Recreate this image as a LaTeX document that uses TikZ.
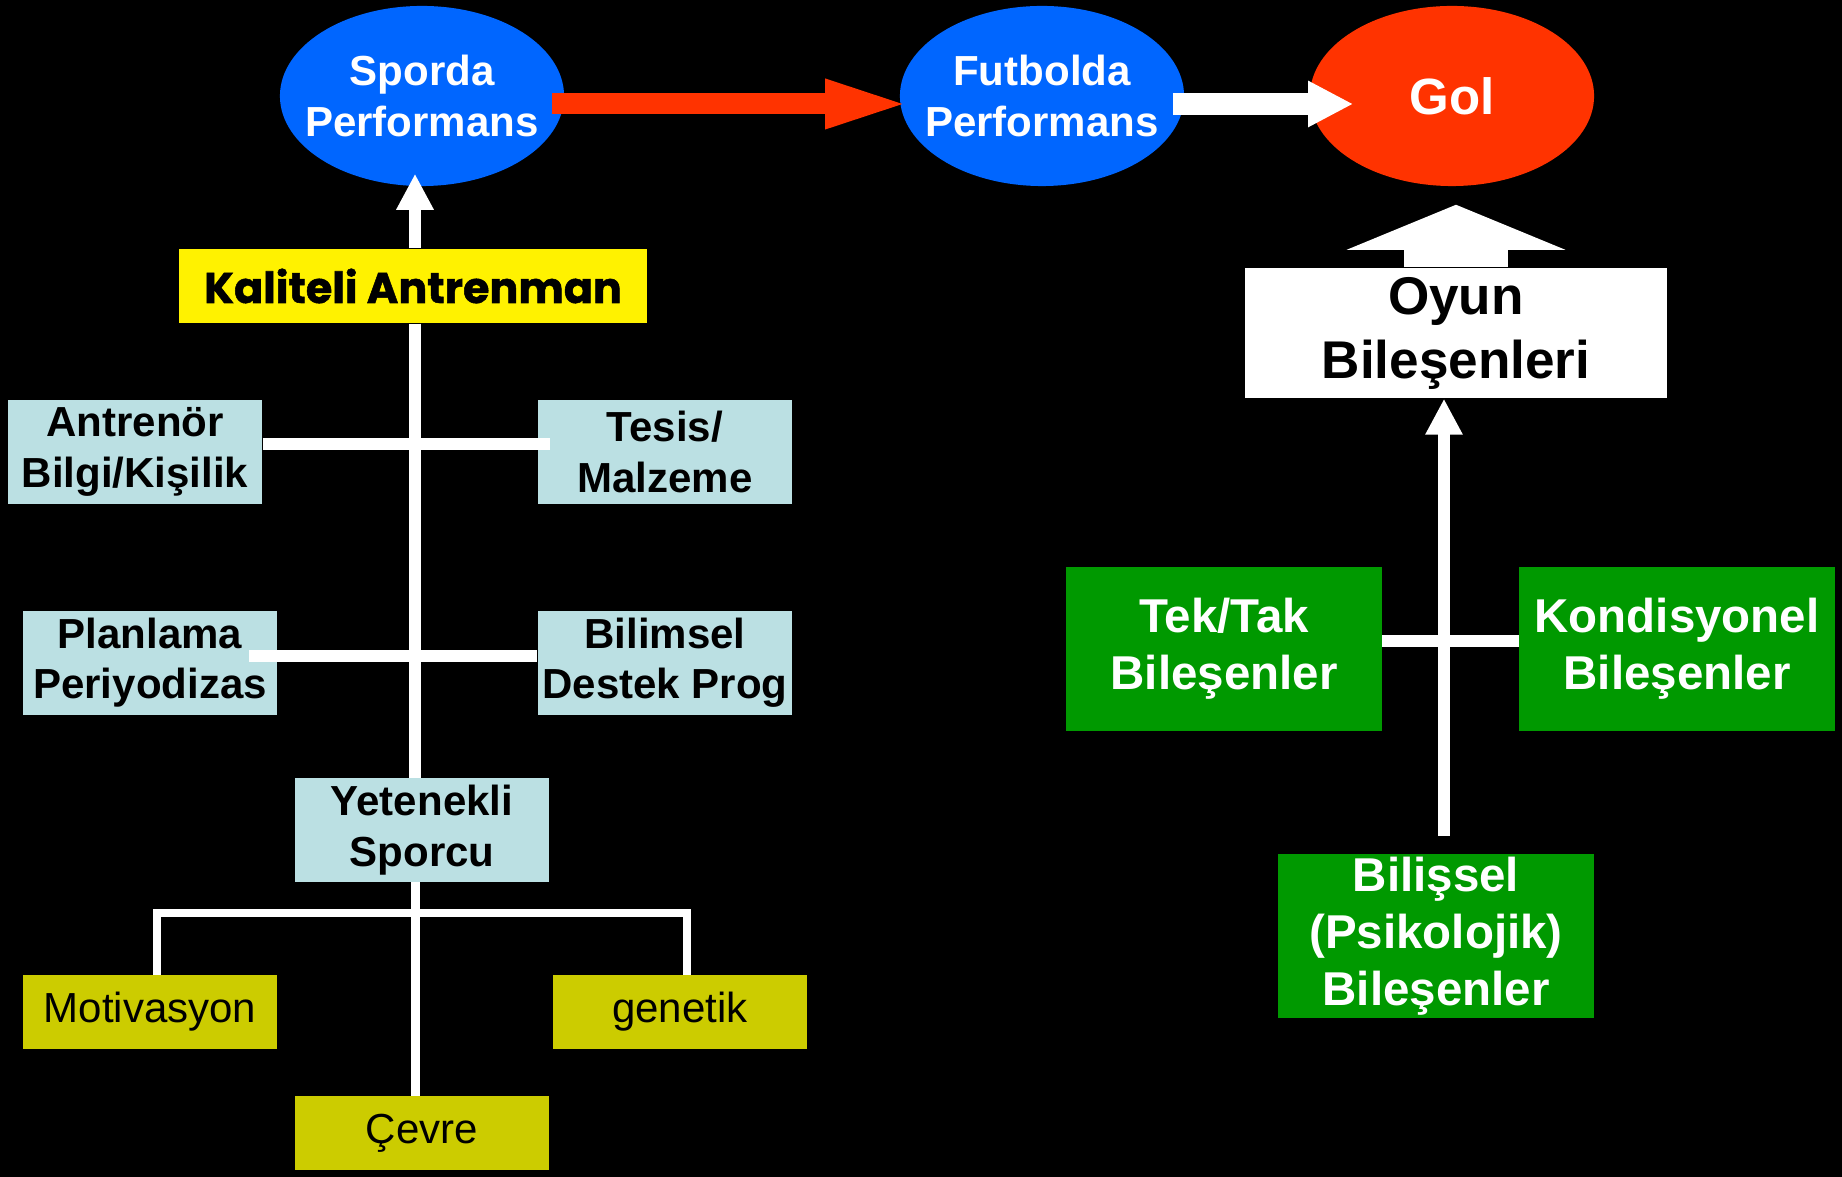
\documentclass[tikz,border=0pt]{standalone}
\usepackage{fontspec}
\setmainfont{Liberation Sans}
\newfontfamily\heavyfont{Poppins}[BoldFeatures={FakeBold=1.2}]
\usetikzlibrary{shapes.geometric,arrows.meta}

\definecolor{sportblue}{RGB}{0,102,255}
\definecolor{golred}{RGB}{255,51,0}
\definecolor{palecyan}{RGB}{187,224,227}
\definecolor{mustard}{RGB}{204,204,0}
\definecolor{fieldgreen}{RGB}{0,153,0}

\begin{document}
\begin{tikzpicture}[
            x=0.01cm, y=-0.01cm,
            oval/.style = {ellipse, minimum width=2.84cm, minimum height=1.8cm, inner xsep=-0.3cm, inner ysep=0pt, align=center, text=white, font=\fontsize{11.95pt}{14.5pt}\selectfont\bfseries},
            factor/.style = {rectangle, fill=palecyan, minimum width=2.54cm, minimum height=1.03cm, inner sep=0pt, align=center, font=\fontsize{11.95pt}{14.3pt}\selectfont\bfseries},
            root/.style = {rectangle, fill=mustard, minimum width=2.54cm, minimum height=0.73cm, inner sep=0pt, font=\fontsize{11.95pt}{14.3pt}\selectfont},
            part/.style = {rectangle, fill=fieldgreen, text=white, minimum width=3.15cm, minimum height=1.64cm, inner sep=0pt, align=center, font=\fontsize{13.5pt}{16.2pt}\selectfont\bfseries},
            wire/.style = {draw=white, line width=0.12cm},
            thinwire/.style = {draw=white, line width=0.08cm, line join=miter},
            upline/.style = {draw=white, line width=0.12cm, -{Triangle[width=0.35cm, length=0.36cm]}}
        ]

        \fill[black] (0,0) rectangle (1842,1177);

        \node[oval, fill=sportblue] (sporda) at (422,96) {Sporda\\Performans};
        \node[oval, fill=sportblue] (futbol) at (1042,96) {Futbolda\\Performans};
        \node[oval, fill=golred, font=\fontsize{14.5pt}{17pt}\selectfont\bfseries] (gol) at (1452,96) {Gol};

        \node[rectangle, fill=yellow, minimum width=4.67cm, minimum height=0.74cm, inner sep=0pt, font=\heavyfont\fontsize{12.2pt}{14pt}\selectfont\bfseries] (kaliteli) at (413,286) {Kaliteli Antrenman};

        \node[factor] (antrenor) at (135,452) {Antrenör\\Bilgi/Kişilik};
        \node[factor] (tesis) at (665,452) {Tesis/\\Malzeme};
        \node[factor] (planlama) at (150,663) {Planlama\\Periyodizas};
        \node[factor] (bilimsel) at (665,663) {Bilimsel\\Destek Prog};
        \node[factor] (yetenekli) at (422,830) {Yetenekli\\Sporcu};

        \node[root] (motivasyon) at (150,1012) {Motivasyon};
        \node[root] (genetik) at (680,1012) {genetik};
        \node[root] (cevre) at (422,1133) {Çevre};

        \node[rectangle, fill=white, minimum width=4.21cm, minimum height=1.3cm, inner sep=0pt, align=center, font=\fontsize{15.1pt}{18.2pt}\selectfont\bfseries] (oyun) at (1456,333) {Oyun\\Bileşenleri};

        \node[part] (tektak) at (1224,649) {Tek/Tak\\Bileşenler};
        \node[part] (kondisyonel) at (1677,649) {Kondisyonel\\Bileşenler};
        \node[part] (bilissel) at (1436,936) {Bilişsel\\(Psikolojik)\\Bileşenler};

        \coordinate (spine) at (415,0);
        \coordinate (rspine) at (1444,0);
        \coordinate (fork) at (415,913);

        \draw[wire] (kaliteli.south -| spine) -- (yetenekli.north -| spine);
        \draw[wire] ([yshift=0.08cm]antrenor.east) -- ([xshift=0.13cm, yshift=0.08cm]tesis.west);
        \draw[wire] ([xshift=-0.29cm, yshift=0.07cm]planlama.east) -- ([yshift=0.07cm]bilimsel.west);
        \draw[upline, shorten >=-0.13cm] (kaliteli.north -| spine) -- (sporda.south -| spine);

        \draw[thinwire, line width=0.09cm] (yetenekli.south -| spine) -- (cevre.north -| spine);
        \draw[thinwire] ([xshift=0.07cm]motivasyon.north) |- (fork) -| ([xshift=0.07cm]genetik.north);

        \draw[draw=golred, line width=0.21cm, -{Triangle[width=0.43cm, length=0.88cm]}] ([xshift=-0.13cm, yshift=-0.08cm]sporda.east) -- ([xshift=0.14cm, yshift=-0.08cm]futbol.west);
        \draw[draw=white, line width=0.22cm, -{Triangle[width=0.43cm, length=0.45cm]}] ([xshift=-0.12cm, yshift=-0.08cm]futbol.east) -- ([xshift=0.44cm, yshift=-0.08cm]gol.west);
        \draw[draw=white, line width=1.04cm, -{Triangle[width=2.17cm, length=0.45cm]}, shorten >=0.18cm] (oyun.north) -- (gol.south -| oyun.north);

        \draw[wire] ([yshift=0.08cm]tektak.east) -- ([yshift=0.08cm]kondisyonel.west);
        \draw[upline] ([yshift=0.17cm]bilissel.north -| rspine) -- (oyun.south -| rspine);
    \end{tikzpicture}
\end{document}
